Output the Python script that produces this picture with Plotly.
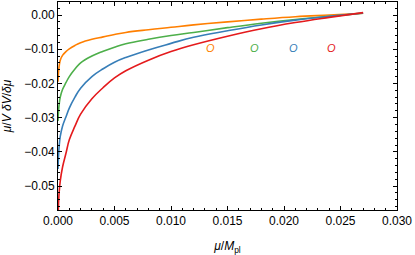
import plotly.graph_objects as go

x_vals = [0.0, 0.00005, 0.0001, 0.0002, 0.0004, 0.0007, 0.001, 0.0015, 0.002, 0.003, 0.004, 0.005,
          0.006, 0.008, 0.010, 0.012, 0.015, 0.018, 0.021, 0.024, 0.027]

y_orange = [-0.0195, -0.0165, -0.0150, -0.0132, -0.0118, -0.0107, -0.0099, -0.0089, -0.0081, -0.0071, -0.0064,
            -0.0057, -0.0051, -0.0043, -0.0036, -0.0029, -0.0020, -0.0012, -0.0005, 0.0000, 0.0005]
y_green = [-0.031, -0.028, -0.0262, -0.0240, -0.0218, -0.0198, -0.0180, -0.0158, -0.0140, -0.0120, -0.0106,
           -0.0094, -0.0084, -0.0071, -0.0060, -0.0051, -0.0037, -0.0024, -0.0013, -0.0004, 0.0005]
y_blue = [-0.045, -0.041, -0.0385, -0.0355, -0.0325, -0.0298, -0.0272, -0.0240, -0.0214, -0.0180, -0.0157,
          -0.0138, -0.0124, -0.0102, -0.0083, -0.0065, -0.0046, -0.0029, -0.0015, -0.0004, 0.0006]
y_red = [-0.060, -0.055, -0.052, -0.0485, -0.0445, -0.0405, -0.0365, -0.0325, -0.0290, -0.0245, -0.0212,
         -0.0184, -0.0163, -0.0132, -0.0107, -0.0087, -0.0062, -0.0040, -0.0022, -0.0007, 0.0007]

series_names = ["orange", "green", "blue", "red"]
series_colors = ["#ff7f00", "#4daf4a", "#377eb8", "#e41a1c"]
series_y = [y_orange, y_green, y_blue, y_red]

label_text = ["O", "O", "O", "O"]
label_x = [0.0135, 0.0174, 0.0208, 0.0242]
label_y = [-0.0097, -0.0097, -0.0097, -0.0097]

FONT = "Liberation Sans, Arial, sans-serif"

fig = go.Figure()
for name, col, ys in zip(series_names, series_colors, series_y):
    fig.add_trace(go.Scatter(x=x_vals, y=ys, mode="lines", name=name,
                             line=dict(color=col, width=1.6, shape="spline", smoothing=1.2),
                             showlegend=False, hoverinfo="skip"))

for t, lx, ly, col in zip(label_text, label_x, label_y, series_colors):
    fig.add_annotation(x=lx, y=ly, text="<i>%s</i>" % t, showarrow=False,
                       font=dict(color=col, size=11, family=FONT))

axis_common = dict(showline=True, linecolor="black", linewidth=1, mirror="allticks",
                   ticks="inside", ticklen=4, tickcolor="black", tickwidth=1,
                   showgrid=False, zeroline=False, automargin=False,
                   tickfont=dict(size=12, color="black", family=FONT))

fig.update_xaxes(range=[0, 0.030], dtick=0.005, tick0=0, tickformat=".3f",
                 minor=dict(ticks="inside", ticklen=2, dtick=0.001, tickcolor="black", showgrid=False),
                 title=dict(text="<i>μ</i>/<i>M</i><sub>pl</sub>", font=dict(size=12, color="black", family=FONT)),
                 **axis_common)
fig.update_yaxes(range=[-0.057, 0.0038], dtick=0.01, tick0=0, tickformat=".2f",
                 minor=dict(ticks="inside", ticklen=2, dtick=0.002, tickcolor="black", showgrid=False),
                 title=dict(text="<i>μ</i>/<i>V</i> <i>δV</i>/<i>δμ</i>", font=dict(size=12, color="black", family=FONT)),
                 **axis_common)

fig.update_layout(width=415, height=255, margin=dict(l=58, r=18, t=2, b=45),
                  plot_bgcolor="white", paper_bgcolor="white", hovermode=False)

fig.write_html("out.html", config={"displayModeBar": False, "staticPlot": True},
               post_script="document.body.style.margin='0px';document.body.style.overflow='hidden';")
